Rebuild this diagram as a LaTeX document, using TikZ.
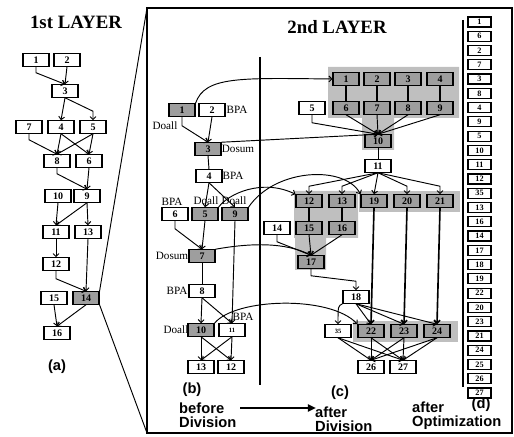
\documentclass[tikz,border=0pt]{standalone}
\usepackage{fontspec}
\setmainfont{Liberation Serif}
\newfontfamily\capfont{Liberation Sans}
\usetikzlibrary{arrows.meta,calc}

\begin{document}
\begin{tikzpicture}[x=0.85pt, y=-0.85pt,
  box/.style={draw, line width=1pt, fill=white, minimum width=22pt, minimum height=10.5pt, inner sep=0pt, font=\fontsize{8.5}{8.5}\selectfont\bfseries},
  hbox/.style={box, fill=black!38},
  sbox/.style={box, minimum width=19.5pt, minimum height=8.5pt, font=\fontsize{7}{7}\selectfont\bfseries},
  tiny/.style={font=\fontsize{5.5}{5.5}\selectfont\bfseries},
  tag/.style={font=\fontsize{9.5}{9.5}\selectfont, inner sep=0.5pt},
  link/.style={line width=0.8pt, -{Straight Barb[length=2.5pt,width=5pt]}},
  plain/.style={line width=0.8pt},
  fat/.style={line width=1.4pt},
  shade/.style={fill=black!25, draw=none},
  title/.style={font=\fontsize{16}{16}\selectfont\bfseries},
  caption/.style={font=\capfont\fontsize{12.5}{12}\selectfont\bfseries, align=left, inner sep=0pt}]

\useasboundingbox (0,0) rectangle (514,437);

% frame of the 2nd layer
\coordinate (ftl) at (147,8);
\coordinate (fbl) at (147,433);
\draw[line width=0.9pt] (ftl) rectangle (512,433);
\draw[line width=1.2pt] (260,57) -- (260,385);
\draw[line width=1.2pt] (463,20) -- (463,387);

% 1st layer
\node[title] (t1) at (76,22) {1st LAYER};
\node[box] (a1) at (36,60) {1};
\node[box] (a2) at (67,60) {2};
\node[box] (a3) at (65,91) {3};
\node[box] (a7) at (29,127) {7};
\node[box] (a4) at (61,127) {4};
\node[box] (a5) at (93,127) {5};
\node[box] (a8) at (57,161) {8};
\node[box] (a6) at (89,161) {6};
\node[box] (a10) at (58,196) {10};
\node[box] (a9) at (87,196) {9};
\node[box] (a11) at (56,232) {11};
\node[box] (a13) at (88,232) {13};
\node[box] (a12) at (56,264) {12};
\node[box] (a15) at (54,298) {15};
\node[hbox] (a14) at (86,298) {14};
\node[box] (a16) at (57,333) {16};
\node[caption] (capa) at (57,367) {(a)};

\draw[link] (a1.south) -- ++(0,6) -- (a3.north);
\draw[link] (a3.south) -- ($(a5.north)+(0,-9)$) -- (a5.north);
\draw[link] (a7.south) -- ++(0,6) -- (a8.north);
\draw[link] (a8.south) -- ++(0,6) -- (a9.north);
\draw[link] (a12.south) -- ++(0,8) -- (a14.north);
\foreach \s/\t in {2/3,3/4,4/8,4/6,5/8,5/6,6/9,9/11,9/13,10/11,11/12,13/14,15/16,14/16}
  \draw[link] (a\s.south) -- (a\t.north);
\draw[plain] (a14.north east) -- (ftl);
\draw[plain] (a14.south east) -- (fbl);

% 2nd layer
\node[title] (t2) at (337,27) {2nd LAYER};

% groups
\fill[shade] (328,67) rectangle (459,118) (362,118) rectangle (394,150);
\fill[shade] (294,191) rectangle (358,238) (295,238) rectangle (326,270);
\fill[shade] (359,191) rectangle (460,212);
\fill[shade] (353,321) rectangle (458,342);

% (b) before division
\node[hbox] (b1) at (182,110) {1};
\node[box] (b2) at (212,110) {2};
\node[hbox] (b3) at (208,149) {3};
\node[box] (b4) at (209,176) {4};
\node[box] (b6) at (175,214) {6};
\node[hbox] (b5) at (205,214) {5};
\node[hbox] (b9) at (235,214) {9};
\node[hbox] (b7) at (202,256) {7};
\node[box] (b8) at (202,291) {8};
\node[hbox] (b10) at (201,330) {10};
\node[box, tiny] (b11) at (232,330) {11};
\node[box] (b13) at (201,367) {13};
\node[box] (b12) at (231,367) {12};

\node[tag] (lb2) at (237,110) {BPA};
\node[tag] (lb1) at (165,126) {Doall};
\node[tag] (lb3) at (238,149) {Dosum};
\node[tag] (lb4) at (233,176) {BPA};
\node[tag] (lb6) at (172,202) {BPA};
\node[tag] (lb5) at (206,201) {Doall};
\node[tag] (lb9) at (234,201) {Doall};
\node[tag] (lb7) at (172,256) {Dosum};
\node[tag] (lb8) at (177,291) {BPA};
\node[tag] (lb10) at (176,330) {Doall};
\node[tag] (lb11) at (243,317) {BPA};

\draw[link] (b1.south) -- ++(0,9) -- (b3.north);
\draw[link] (b2.south) -- (b3.north);
\draw[plain] (b3.south) -- (b4.north);
\draw[link] (b6.south) -- ++(0,8) -- (b7.north);
\draw[plain] (b7.south) -- (b8.north);
\foreach \s/\t in {4/5,4/9,5/7,9/11,8/10,8/11,10/13,10/12,11/13,11/12}
  \draw[link] (b\s.south) -- (b\t.north);

% (c) after division
\node[hbox] (c1) at (346,79) {1};
\node[hbox] (c2) at (377,79) {2};
\node[hbox] (c3) at (408,79) {3};
\node[hbox] (c4) at (440,79) {4};
\node[box] (c5) at (312,108) {5};
\node[hbox] (c6) at (346,108) {6};
\node[hbox] (c7) at (377,108) {7};
\node[hbox] (c8) at (408,108) {8};
\node[hbox] (c9) at (440,108) {9};
\node[hbox] (c10) at (378,141) {10};
\node[box] (c11) at (378,166) {11};
\node[hbox] (c12) at (309,201) {12};
\node[hbox] (c13) at (342,201) {13};
\node[hbox] (c19) at (374,201) {19};
\node[hbox] (c20) at (407,201) {20};
\node[hbox] (c21) at (440,201) {21};
\node[box] (c14) at (277,228) {14};
\node[hbox] (c15) at (309,228) {15};
\node[hbox] (c16) at (342,228) {16};
\node[hbox] (c17) at (311,262) {17};
\node[box] (c18) at (356,297) {18};
\node[box, tiny] (c35) at (338,331) {35};
\node[hbox] (c22) at (371,331) {22};
\node[hbox] (c23) at (404,331) {23};
\node[hbox] (c24) at (437,331) {24};
\node[box] (c26) at (371,367) {26};
\node[box] (c27) at (403,367) {27};

\draw[link] (b1.north east) .. controls (205,76) and (240,78) .. (c1.west);
\draw[link] (b3.north east) -- (c10.north);
\draw[link] (b5.north east) .. controls (228,194) and (262,178) .. (c12.north west);
\draw[link] (b9.north east) .. controls (275,168) and (345,165) .. (c19.north west);
\draw[link] (b7.north east) .. controls (250,243) and (285,242) .. (c17.north);
\draw[link] (b10.north east) .. controls (235,298) and (330,295) .. (c22.north west);

\foreach \s/\t in {1/6,2/7,3/8,4/9,12/15,13/16}
  \draw[fat] (c\s.south) -- (c\t.north);
\foreach \s/\t in {19/22,20/23,21/24}
  \draw[link, fat] (c\s.south) -- (c\t.north);
\draw[link] (c5.south) -- ++(0,8) -- (c10.north);
\foreach \s in {6,7,8,9}
  \draw[link] (c\s.south) -- (c10.north);
\draw[plain] (c10.south) -- (c11.north);
\foreach \t in {12,13,20,21}
  \draw[link] (c11.south) -- ($(c\t.north)+(0,-8)$) -- (c\t.north);
\draw[link] (c11.south) -- (c19.north);
\draw[link] (c14.south) -- ++(0,7) -- (c17.north);
\draw[link] (c15.south) -- (c17.north);
\draw[link] (c16.south) -- (c17.north);
\draw[link] (c17.south) -- ++(0,7) -- ($(c18.north)+(0,-9)$) -- (c18.north);
\draw[link] (c18.south west) .. controls (338,306) .. (c35.north);
\foreach \t in {22,23,24}
  \draw[link] (c18.south) -- (c\t.north);
\foreach \s in {35,22,23,24}
  \foreach \t in {26,27}
    \draw[link] (c\s.south) -- (c\t.north);

% (d) after optimization
\foreach \n [count=\i from 0] in {1,6,2,7,3,8,4,9,5,10,11,12,35,13,16,14,17,18,19,22,20,23,21,24,25,26,27}
  \node[sbox] (d\n) at (479.5,{22+14.27*\i}) {\n};

% captions
\node[caption] (capb) at (192,390) {(b)};
\node[caption, anchor=west] (capb2) at (179,415) {before\\Division};
\node[caption] (capc) at (340,393) {(c)};
\node[caption, anchor=west] (capc2) at (315,419) {after\\Division};
\node[caption] (capd) at (481,405) {(d)};
\node[caption, anchor=west] (capd2) at (412,416) {after\\Optimization};
\coordinate (ar1) at (240,408);
\coordinate (ar2) at (316,408);
\draw[line width=2.2pt, -{Triangle[length=7pt,width=6pt]}] (ar1) -- (ar2);

\end{tikzpicture}
\end{document}
